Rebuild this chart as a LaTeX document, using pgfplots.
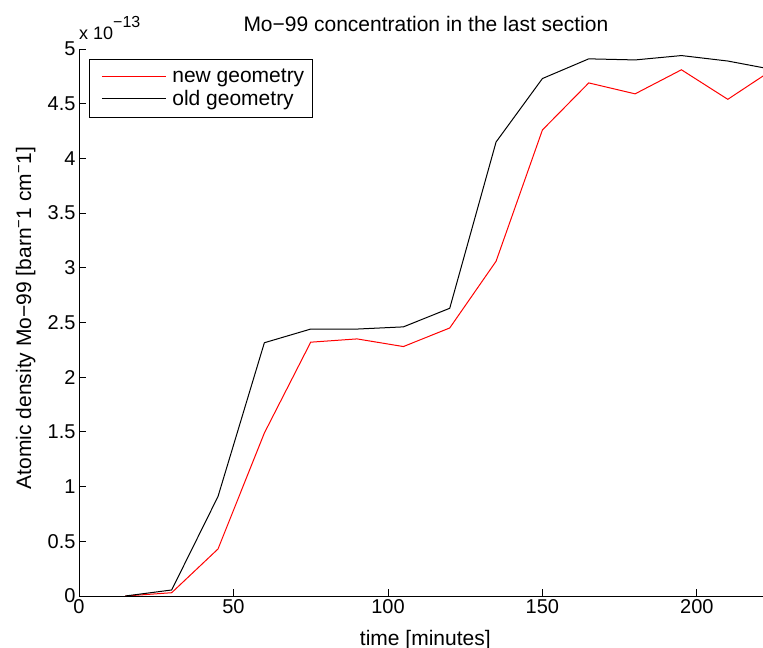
\documentclass[border=0pt]{standalone}
\usepackage{pgfplots}
\pgfplotsset{compat=1.18}
\usepackage{fontspec}
\setmainfont{Liberation Sans}
\begin{document}
\begin{tikzpicture}
\path[use as bounding box] (0,0) rectangle (763bp,648bp);
\begin{axis}[
  at={(79bp,52bp)}, anchor=south west,
  scale only axis, width=684bp, height=547bp,
  xmin=0, xmax=221.4, ymin=0, ymax=5,
  axis x line*=bottom, axis y line*=left,
  axis line style={line width=0.8bp, -},
  tick align=inside, major tick length=7bp,
  tick style={line width=0.8bp, black},
  xtick={0,50,100,150,200},
  ytick={0,0.5,1,1.5,2,2.5,3,3.5,4,4.5,5},
  /pgf/number format/assume math mode=true,
  yticklabel style={/pgf/number format/fixed, /pgf/number format/precision=1},
  ticklabel style={font=\fontsize{20bp}{24bp}\selectfont},
  legend style={at={(0.0146,0.9817)}, anchor=north west, draw=black, line width=0.8bp,
    font=\fontsize{21bp}{24bp}\selectfont, inner xsep=12bp, inner ysep=7bp,
    /tikz/every even column/.append style={column sep=0bp},
    nodes={inner xsep=4bp, inner ysep=3bp}},
  legend cell align=left,
  legend image code/.code={\draw[#1, line width=1bp] (0bp,0bp) -- (64bp,0bp);},
]
\addplot[red, line width=1bp] coordinates {
(15,0) (30,0.03) (45,0.43) (60,1.49) (75,2.32) (90,2.35) (105,2.28) (120,2.45)
(135,3.06) (150,4.26) (165,4.69) (180,4.59) (195,4.81) (210,4.54) (225,4.82)};
\addlegendentry{\hspace{2bp}new geometry\kern-8bp}
\addplot[black, line width=1bp] coordinates {
(15,0) (30,0.055) (45,0.91) (60,2.315) (75,2.44) (90,2.44) (105,2.46) (120,2.63)
(135,4.15) (150,4.73) (165,4.91) (180,4.90) (195,4.94) (210,4.89) (225,4.81)};
\addlegendentry{\hspace{2bp}old geometry}
\end{axis}
\node[anchor=base, font=\fontsize{21bp}{25bp}\selectfont] at (425.9bp,616bp) {Mo−99 concentration in the last section};
\node[anchor=base, font=\fontsize{21bp}{25bp}\selectfont] at (425.3bp,3bp) {time [minutes]};
\node[anchor=base, rotate=90, font=\fontsize{21bp}{25bp}\selectfont] at (31bp,330bp) {Atomic density Mo−99 [barn\textsuperscript{−}1 cm\textsuperscript{−}1]};
\node[anchor=base west, inner sep=0pt, font=\fontsize{18bp}{20bp}\selectfont] at (79bp,608bp) {x 10\raisebox{12bp}{\fontsize{16bp}{16bp}\selectfont −13}};
\end{tikzpicture}
\end{document}
